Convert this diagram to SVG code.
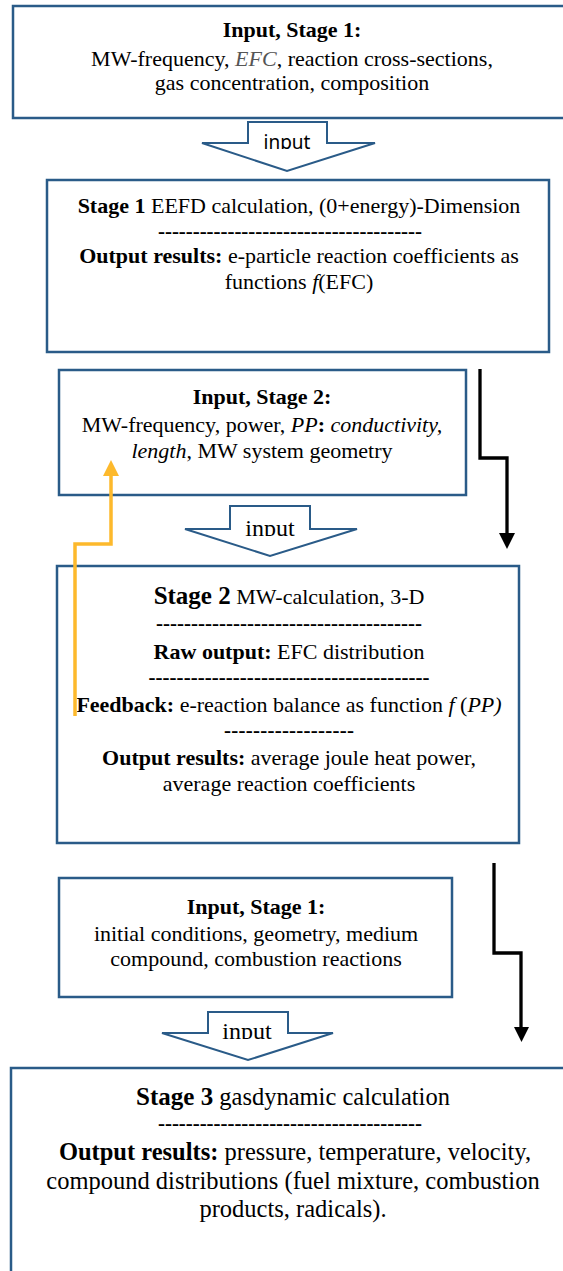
<svg xmlns="http://www.w3.org/2000/svg" width="563" height="1271" viewBox="0 0 563 1271">
  <style>
    .box{fill:#fff;stroke:#2A5B88;stroke-width:2.5}
    .harrow{fill:#fff;stroke:#2A5B88;stroke-width:2}
    .t{font-family:'Liberation Serif','Times New Roman',serif;font-size:22px;fill:#000;text-anchor:middle}
    .lg{font-size:24.5px}
    .b{font-weight:bold}
    .i{font-style:italic}
    .big{font-size:25px;font-weight:bold}
    .dash{font-family:'Liberation Serif','Times New Roman',serif;font-weight:bold;font-size:21px;text-anchor:middle}
    .sans{font-family:'Noto Sans',sans-serif;font-size:19px;text-anchor:middle}
    .ser{font-family:'Liberation Serif','Times New Roman',serif;font-size:24px;text-anchor:middle}
    .conn{fill:none;stroke:#000;stroke-width:3.3}
    .fb{fill:none;stroke:#FDB92C;stroke-width:3.5}
  </style>
  <defs>
    <clipPath id="clip1"><rect x="240" y="120" width="95" height="29"/></clipPath>
    <clipPath id="clip2"><rect x="220" y="505" width="100" height="31"/></clipPath>
    <clipPath id="clip3"><rect x="200" y="1010" width="95" height="29"/></clipPath>
  </defs>

  <rect width="563" height="1271" fill="#fff"/>

  <!-- Stage 1 inputs -->
  <g id="input-stage1">
    <rect class="box" x="13" y="6" width="560" height="112"/>
    <text class="t" x="292" y="37"><tspan class="b">Input, Stage 1:</tspan></text>
    <text class="t" x="292" y="66">MW-frequency, <tspan class="i" fill="#555">EFC</tspan>, reaction cross-sections,</text>
    <text class="t" x="292" y="90">gas concentration, composition</text>
  </g>

  <g id="input-arrow-1">
    <polygon class="harrow" points="248,122 327,122 327,143 375,143 287,171 202,143 248,143"/>
    <text class="sans" x="287" y="149" clip-path="url(#clip1)">input</text>
  </g>

  <!-- Stage 1 calculation -->
  <g id="stage1">
    <rect class="box" x="47" y="180" width="502" height="172"/>
    <text class="t" x="299" y="213"><tspan class="b">Stage 1</tspan> EEFD calculation, (0+energy)-Dimension</text>
    <text class="dash" x="290" y="238" textLength="264" lengthAdjust="spacing">--------------------------------------</text>
    <text class="t" x="299" y="263"><tspan class="b">Output results:</tspan> e-particle reaction coefficients as</text>
    <text class="t" x="299" y="289">functions <tspan class="i">f</tspan>(EFC)</text>
  </g>

  <!-- Stage 2 inputs -->
  <g id="input-stage2">
    <rect class="box" x="59" y="370" width="407" height="125"/>
    <text class="t" x="262" y="404"><tspan class="b">Input, Stage 2:</tspan></text>
    <text class="t" x="262" y="432">MW-frequency, power, <tspan class="i">PP</tspan><tspan class="b">:</tspan> <tspan class="i">conductivity,</tspan></text>
    <text class="t" x="262" y="458"><tspan class="i">length</tspan>, MW system geometry</text>
  </g>

  <g id="input-arrow-2">
    <polygon class="harrow" points="230,506 310,506 310,529 357,529 270,556 185,529 230,529"/>
    <text class="ser" x="270" y="536" clip-path="url(#clip2)">input</text>
  </g>

  <!-- Stage 2 calculation -->
  <g id="stage2">
    <rect class="box" x="57" y="566" width="462" height="277"/>
    <text class="t" x="289" y="604"><tspan class="big">Stage 2</tspan> MW-calculation, 3-D</text>
    <text class="dash" x="289" y="630" textLength="266" lengthAdjust="spacing">--------------------------------------</text>
    <text class="t" x="289" y="659"><tspan class="b">Raw output:</tspan> EFC distribution</text>
    <text class="dash" x="289" y="684" textLength="281" lengthAdjust="spacing">----------------------------------------</text>
    <text class="t" x="289" y="712"><tspan class="b">Feedback:</tspan> e-reaction balance as function <tspan class="i">f</tspan> (<tspan class="i">PP)</tspan></text>
    <text class="dash" x="289" y="737" textLength="130" lengthAdjust="spacing">------------------</text>
    <text class="t" x="289" y="765"><tspan class="b">Output results:</tspan> average joule heat power,</text>
    <text class="t" x="289" y="791">average reaction coefficients</text>
  </g>

  <!-- Stage 3 inputs -->
  <g id="input-stage3">
    <rect class="box" x="59" y="878" width="393" height="119"/>
    <text class="t" x="256" y="914"><tspan class="b">Input, Stage 1:</tspan></text>
    <text class="t" x="256" y="941">initial conditions, geometry, medium</text>
    <text class="t" x="256" y="966">compound, combustion reactions</text>
  </g>

  <g id="input-arrow-3">
    <polygon class="harrow" points="208,1012 288,1012 288,1033 333,1033 248,1060 162,1033 208,1033"/>
    <text class="ser" x="247" y="1039" clip-path="url(#clip3)">input</text>
  </g>

  <!-- Stage 3 calculation -->
  <g id="stage3">
    <rect class="box" x="11" y="1068" width="562" height="220"/>
    <text class="t lg" x="293" y="1105"><tspan class="big">Stage 3</tspan> gasdynamic calculation</text>
    <text class="dash" x="290" y="1130" textLength="264" lengthAdjust="spacing">--------------------------------------</text>
    <text class="t lg" x="295" y="1160"><tspan class="b">Output results:</tspan> pressure, temperature, velocity,</text>
    <text class="t lg" x="293" y="1189">compound distributions (fuel mixture, combustion</text>
    <text class="t lg" x="293" y="1217">products, radicals).</text>
  </g>

  <!-- connectors -->
  <g id="connectors">
    <path class="conn" d="M480,369 V458 H507 V535"/>
    <polygon points="499,533 515,533 507,549" fill="#000"/>
    <path class="conn" d="M494,863 V953 H521 V1028"/>
    <polygon points="514,1027 529,1027 521.5,1042" fill="#000"/>
    <path class="fb" d="M75,716 V544 H111 V474"/>
    <polygon points="103,476 119,476 111,460" fill="#FDB92C"/>
  </g>
</svg>
